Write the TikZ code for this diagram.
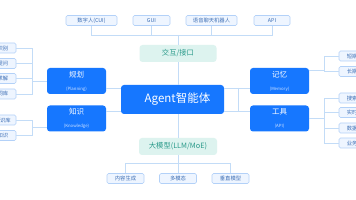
\documentclass[tikz,border=0pt]{standalone}
\usepackage{fontspec}
\setmainfont{Noto Sans CJK SC}
\definecolor{mainblue}{HTML}{1677FF}
\definecolor{subc}{HTML}{CFE3FF}
\definecolor{leaffill}{HTML}{EEF5FF}
\definecolor{leafborder}{HTML}{B3D1F8}
\definecolor{leaftext}{HTML}{3E6FB5}
\definecolor{conn}{HTML}{C3DCF7}
\definecolor{tealfill}{HTML}{DDF3EF}
\definecolor{tealtext}{HTML}{2A9A8A}
\begin{document}
\begin{tikzpicture}[x=1pt,y=-1pt,
  mainbox/.style={fill=mainblue, rounded corners=3pt, minimum width=59pt, minimum height=26pt, inner sep=0pt, text=white, align=center},
  leaf/.style={draw=leafborder, fill=leaffill, rounded corners=1.5pt, minimum width=37pt, minimum height=10pt, inner sep=1pt, font=\fontsize{5.3}{6}\selectfont, text=leaftext, line width=0.6pt},
  tealbox/.style={fill=tealfill, rounded corners=3pt, minimum height=17pt, inner sep=0pt, text=tealtext, font=\fontsize{7.3}{8}\selectfont},
  cn/.style={draw=conn, line width=0.7pt}]
\useasboundingbox (0,0) rectangle (356,200);
\clip (0,0) rectangle (356,200);
\fill[white] (0,0) rectangle (356,200);

% top layer
\node[leaf, minimum width=51pt] (cui) at (91.5,20.5) {数字人(CUI)};
\node[leaf, minimum width=37pt] (gui) at (151.5,20.5) {GUI};
\node[leaf, minimum width=51pt] (voice) at (211.5,20.5) {语音聊天机器人};
\node[leaf, minimum width=36pt] (api) at (272,20.5) {API};
\node[tealbox, minimum width=77pt] (jh) at (178,53.5) {交互/接口};

% center
\node[fill=mainblue, rounded corners=3pt, minimum width=103pt, minimum height=29pt, inner sep=0pt, text=white, font=\fontsize{11.5}{12}\selectfont] (agent) at (172.5,99.5) {\hspace{10pt}Agent智能体};

% main groups
\node[mainbox] (plan) at (76.5,81) {\fontsize{7.5}{8}\selectfont 规划\\[1pt]{\fontsize{4.3}{5}\selectfont\color{subc}(Planning)}};
\node[mainbox] (know) at (76.5,118.5) {\fontsize{7.5}{8}\selectfont 知识\\[1pt]{\fontsize{4.3}{5}\selectfont\color{subc}(Knowledge)}};
\node[mainbox] (mem) at (279.5,81) {\fontsize{7.5}{8}\selectfont 记忆\\[1pt]{\fontsize{4.3}{5}\selectfont\color{subc}(Memory)}};
\node[mainbox] (tool) at (279.5,118.5) {\fontsize{7.5}{8}\selectfont 工具\\[1pt]{\fontsize{4.3}{5}\selectfont\color{subc}(API)}};

% bottom
\node[tealbox, minimum width=78pt] (llm) at (178,146.5) {大模型(LLM/MoE)};
\node[leaf] (gen) at (125.5,178.5) {内容生成};
\node[leaf] (mm) at (178,178.5) {多模态};
\node[leaf] (vert) at (230.5,178.5) {垂直模型};

% left leaves
\node[leaf] (p1) at (-2.5,48) {意图识别};
\node[leaf] (p2) at (-2.5,63.5) {自我提问};
\node[leaf] (p3) at (-2.5,78.5) {问题求解};
\node[leaf] (p4) at (-2.5,94) {提示词库};
\node[leaf] (k1) at (-2.5,120) {企业知识库};
\node[leaf] (k2) at (-2.5,135.5) {领域知识};

% right leaves
\node[leaf] (m1) at (357.5,56) {短期记忆};
\node[leaf] (m2) at (357.5,71.5) {长期记忆};
\node[leaf] (t1) at (357.5,98) {搜索引擎};
\node[leaf] (t2) at (357.5,112.5) {实时数据};
\node[leaf] (t3) at (357.5,128) {数据分析};
\node[leaf] (t4) at (357.5,143) {业务系统};

% coordinates
\coordinate (topbus) at (178,35);
\coordinate (botbus) at (178,163);
\coordinate (lu) at (0,88);
\coordinate (ld) at (0,111);
\coordinate (rb1) at (238,88);
\coordinate (rb2) at (238,111);
\coordinate (pb) at (32,81);
\coordinate (kb) at (32,127);
\coordinate (mb) at (324,70);
\coordinate (tb) at (324,118.5);

% connectors top
\path[cn] (cui.south) |- (topbus);
\path[cn] (api.south) |- (topbus);
\path[cn] (gui.south) -- (gui.south |- topbus);
\path[cn] (voice.south) -- (voice.south |- topbus);
\path[cn] (topbus) -- (jh.north);
\path[cn] (jh.south) -- (jh.south |- agent.north);
\path[cn] (llm.north |- agent.south) -- (llm.north);
\path[cn] (llm.south) -- (botbus);
\path[cn] (gen.north) |- (botbus);
\path[cn] (vert.north) |- (botbus);
\path[cn] (mm.north) -- (mm.north |- botbus);
% main branches
\path[cn] (plan.east |- lu) -- (agent.west |- lu);
\path[cn] (know.east |- ld) -- (agent.west |- ld);
\path[cn] (agent.east |- rb1) -- (mem.west |- rb1);
\path[cn] (agent.east |- rb2) -- (tool.west |- rb2);
\path[cn] (rb1) -- (rb2);
% left leaves
\path[cn] (p1.east) -| (pb);
\path[cn] (p2.east) -| (pb);
\path[cn] (p3.east) -| (pb);
\path[cn] (p4.east) -| (pb);
\path[cn] (pb) -- (plan.west |- pb);
\path[cn] (k1.east) -| (kb);
\path[cn] (k2.east) -| (kb);
\path[cn] (kb) -- (know.west |- kb);
% right leaves
\path[cn] (m1.west) -| (mb);
\path[cn] (m2.west) -| (mb);
\path[cn] (mb) -- (mem.east |- mb);
\path[cn] (t1.west) -| (tb);
\path[cn] (t2.west) -| (tb);
\path[cn] (t3.west) -| (tb);
\path[cn] (t4.west) -| (tb);
\path[cn] (tb) -- (tool.east |- tb);
\end{tikzpicture}
\end{document}
